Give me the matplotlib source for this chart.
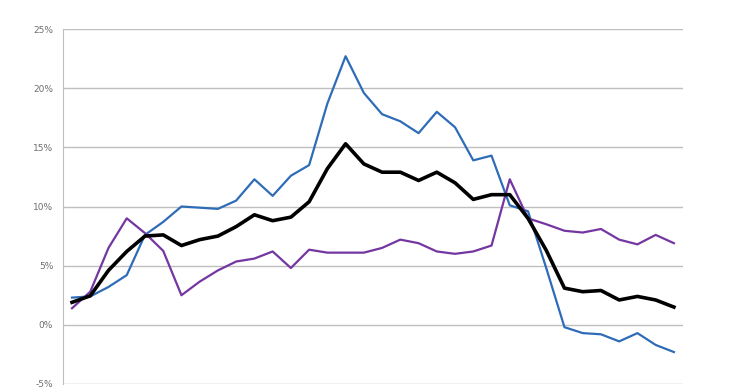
import matplotlib
matplotlib.use("Agg")
import matplotlib.pyplot as plt
from matplotlib.ticker import PercentFormatter

plt.rcParams["axes.unicode_minus"] = False

# values in percent, one per period (34 periods, no x labels shown)
blue = [2.3, 2.4, 3.2, 4.2, 7.6, 8.7, 10.0, 9.9, 9.8, 10.5,
        12.3, 10.9, 12.6, 13.5, 18.7, 22.7, 19.6, 17.8, 17.2, 16.2,
        18.0, 16.7, 13.9, 14.3, 10.1, 9.6, 4.8, -0.2, -0.7, -0.8,
        -1.4, -0.7, -1.7, -2.3]
black = [1.9, 2.45, 4.6, 6.2, 7.5, 7.6, 6.7, 7.2, 7.5, 8.3,
         9.3, 8.8, 9.1, 10.4, 13.2, 15.3, 13.6, 12.9, 12.9, 12.2,
         12.9, 12.0, 10.6, 11.0, 11.0, 9.0, 6.3, 3.1, 2.8, 2.9,
         2.1, 2.4, 2.1, 1.5]
purple = [1.4, 2.8, 6.5, 9.0, 7.75, 6.25, 2.5, 3.65, 4.6, 5.35,
          5.6, 6.2, 4.8, 6.35, 6.1, 6.1, 6.1, 6.5, 7.2, 6.9,
          6.2, 6.0, 6.2, 6.7, 12.3, 9.0, 8.5, 7.95, 7.8, 8.1,
          7.2, 6.8, 7.6, 6.9]
yticks = [-5, 0, 5, 10, 15, 20, 25]

x = list(range(len(black)))

fig = plt.figure(figsize=(7.4, 3.89), dpi=100)
ax = fig.add_axes([0.085, 0.0129, 0.838, 0.9125])

ax.plot(x, blue, color="#2E6CB8", lw=1.6)
ax.plot(x, purple, color="#7436A0", lw=1.6)
ax.plot(x, black, color="black", lw=2.6)

ax.set_xlim(-0.5, len(x) - 0.5)
ax.set_ylim(-5, 25)
ax.set_yticks(yticks)
ax.yaxis.set_major_formatter(PercentFormatter(decimals=0))
ax.set_xticks([])
ax.grid(axis="y", color="#BFBFBF", lw=1)
ax.set_axisbelow(True)
for s in ["top", "right", "bottom"]:
    ax.spines[s].set_visible(False)
ax.spines["left"].set_color("#BFBFBF")
ax.tick_params(axis="y", labelsize=6.5, labelcolor="#6E6E6E",
               length=0, pad=7)

fig.savefig("out.png", dpi=100)
